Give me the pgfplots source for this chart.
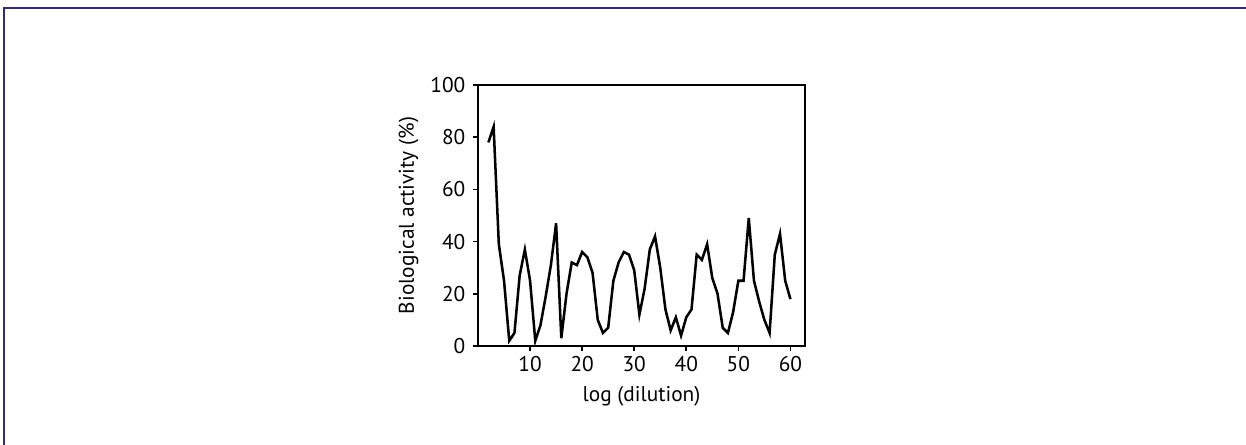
\documentclass[border=0pt]{standalone}
\usepackage{fontspec}
\setmainfont{PT Sans}
\usepackage{pgfplots}
\pgfplotsset{compat=1.18}
\definecolor{framecol}{RGB}{55,45,105}

\begin{document}
\begin{tikzpicture}
% page: 1246 x 445 px, 1 px = 0.75pt
\path[use as bounding box] (0pt,0pt) rectangle (934.5pt,333.75pt);
\draw[framecol, line width=0.9pt] (3pt,0pt) -- (3pt,327.75pt) -- (934.5pt,327.75pt);
\begin{axis}[
    at={(358.5pt,74.25pt)}, anchor=south west,
    scale only axis,
    width=245.25pt, height=195.75pt,
    xmin=0, xmax=62.8,
    ymin=0, ymax=100,
    xtick={10,20,30,40,50,60},
    ytick={0,20,40,60,80,100},
    xtick pos=lower, ytick pos=left,
    tick align=outside,
    major tick length=4pt,
    axis line style={line width=1.5pt},
    every tick/.style={line width=1.2pt, black},
    tick label style={font=\fontsize{16}{18}\selectfont},
    label style={font=\fontsize{16}{18}\selectfont},
    yticklabel style={xshift=-2pt},
    /pgf/number format/assume math mode=true,
    xlabel={log (dilution)},
    ylabel={Biological activity (\%)},
    xlabel style={yshift=-4pt},
    ylabel style={yshift=2pt},
    clip=false,
]
\addplot[black, line width=1.9pt, line join=miter] coordinates {
(2,78) (3,84) (4,39) (5,25) (6,2) (7,5) (8,27) (9,37) (10,25) (11,2)
(12,8) (13,19) (14,31) (15,47) (16,3) (17,20) (18,32) (19,31) (20,36)
(21,34) (22,28) (23,10) (24,5) (25,7) (26,25) (27,32) (28,36) (29,35)
(30,29) (31,12) (32,22) (33,37) (34,42) (35,30) (36,14) (37,6) (38,11)
(39,4) (40,11) (41,14) (42,35) (43,33) (44,39) (45,26) (46,20) (47,7)
(48,5) (49,13) (50,25) (51,25) (52,49) (53,25) (54,17) (55,10) (56,5)
(57,35) (58,43) (59,25) (60,18)
};
\end{axis}
\end{tikzpicture}
\end{document}
